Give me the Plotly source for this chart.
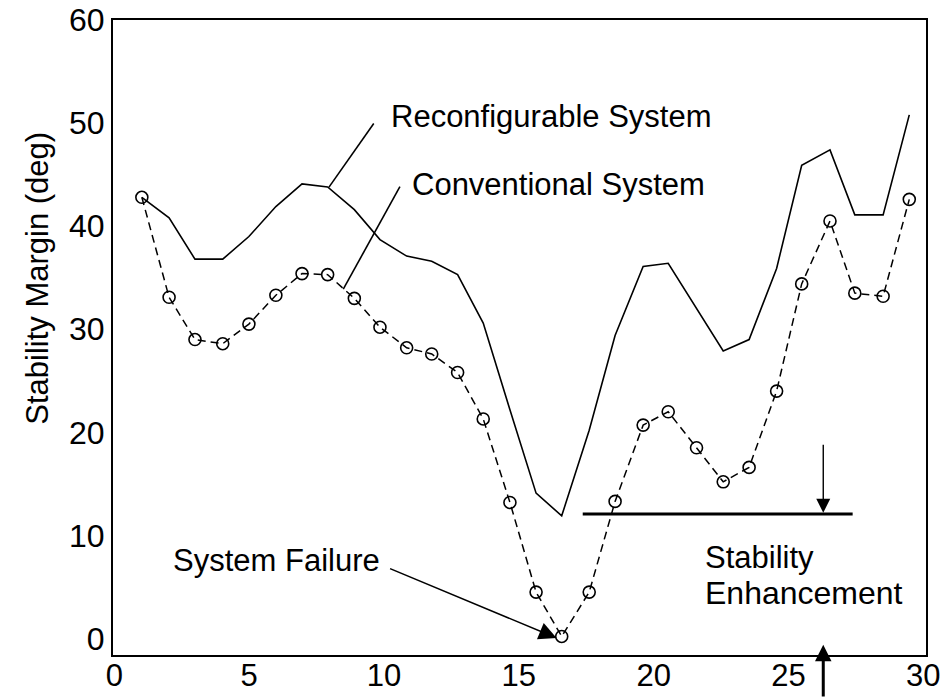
import plotly.graph_objects as go

# ---- data ----
x_vals = [1.02, 2.03, 2.99, 4.02, 4.99, 5.99, 6.96, 7.91, 8.90, 9.85,
          10.84, 11.77, 12.73, 13.68, 14.67, 15.64, 16.59, 17.61, 18.57, 19.61,
          20.54, 21.59, 22.58, 23.54, 24.56, 25.49, 26.54, 27.46, 28.51, 29.48]
conventional = [42.8, 33.1, 29.0, 28.6, 30.5, 33.3, 35.4, 35.3, 33.0, 30.2,
                28.2, 27.6, 25.8, 21.3, 13.2, 4.5, 0.2, 4.5, 13.3, 20.7,
                22.0, 18.5, 15.2, 16.6, 24.0, 34.4, 40.5, 33.5, 33.2, 42.6]
reconfigurable = [42.8, 40.8, 36.8, 36.8, 39.0, 41.9, 44.1, 43.8, 41.6, 38.7,
                  37.1, 36.6, 35.3, 30.6, 22.2, 14.1, 11.9, 20.2, 29.4, 36.1,
                  36.4, 32.0, 27.9, 29.0, 35.9, 45.9, 47.4, 41.1, 41.1, 50.8]
x_ticks = [0, 5, 10, 15, 20, 25, 30]
y_ticks = [0, 10, 20, 30, 40, 50, 60]

FONT = "Liberation Sans"
fig = go.Figure()

fig.add_trace(go.Scatter(
    x=x_vals, y=reconfigurable, mode="lines",
    line=dict(color="black", width=1.6), showlegend=False))
fig.add_trace(go.Scatter(
    x=x_vals, y=conventional, mode="lines+markers",
    line=dict(color="black", width=1.5, dash="8px,5px"),
    marker=dict(symbol="circle-open", size=12, color="black", line=dict(width=1.6)),
    showlegend=False))

# leader lines
fig.add_shape(type="line", x0=9.62, y0=49.96, x1=7.96, y1=43.79,
              line=dict(color="black", width=1.6))
fig.add_shape(type="line", x0=10.59, y0=43.83, x1=8.49, y1=33.89,
              line=dict(color="black", width=1.6))
# stability enhancement line
fig.add_shape(type="line", x0=17.37, y0=12.08, x1=27.38, y1=12.08,
              line=dict(color="black", width=3))

ann = []
ann.append(dict(x=10.2, y=50.6, text="Reconfigurable System", showarrow=False,
                xanchor="left", yanchor="middle", font=dict(size=31)))
ann.append(dict(x=10.96, y=44.0, text="Conventional System", showarrow=False,
                xanchor="left", yanchor="middle", font=dict(size=31)))
ann.append(dict(x=6.01, y=7.6, text="System Failure", showarrow=False,
                xanchor="center", yanchor="middle", font=dict(size=31)))
ann.append(dict(x=21.84, y=7.9, text="Stability", showarrow=False,
                xanchor="left", yanchor="middle", font=dict(size=31)))
ann.append(dict(x=21.84, y=4.4, text="Enhancement", showarrow=False,
                xanchor="left", yanchor="middle", font=dict(size=32)))
# arrows
ann.append(dict(x=16.40, y=0.05, text="", showarrow=True, arrowhead=2,
                arrowsize=2.2, arrowwidth=1.6, arrowcolor="black",
                ax=-168, ay=-70, axref="pixel", ayref="pixel"))
ann.append(dict(x=26.29, y=12.2, text="", showarrow=True, arrowhead=2,
                arrowsize=2.0, arrowwidth=1.4, arrowcolor="black",
                ax=26.29, ay=18.93, axref="x", ayref="y"))
ann.append(dict(x=26.29, y=-0.6, text="", showarrow=True, arrowhead=2,
                arrowsize=1.1, arrowwidth=3, arrowcolor="black",
                ax=0, ay=58, axref="pixel", ayref="pixel"))
# y-axis title
ann.append(dict(x=0, xref="paper", xshift=-75, y=34.9, yref="y",
                text="Stability Margin (deg)", textangle=-90, showarrow=False,
                xanchor="center", yanchor="middle", font=dict(size=31)))
fig.update_layout(annotations=ann)

fig.update_layout(
    width=943, height=698,
    margin=dict(l=113, r=17, t=20, b=43, autoexpand=False),
    paper_bgcolor="white", plot_bgcolor="white",
    font=dict(family=FONT, size=31, color="black"),
    xaxis=dict(range=[-0.05, 30.1], tickvals=x_ticks, ticks="", showgrid=False,
               zeroline=False, showline=True, mirror=True, linecolor="black",
               linewidth=2, tickfont=dict(size=31), automargin=False,
               ticklabelstandoff=-8),
    yaxis=dict(range=[-1.6, 60], tickvals=y_ticks, ticks="", showgrid=False,
               zeroline=False, showline=True, mirror=True, linecolor="black",
               linewidth=2, tickfont=dict(size=32), automargin=False),
)

fig.write_html("out.html")
